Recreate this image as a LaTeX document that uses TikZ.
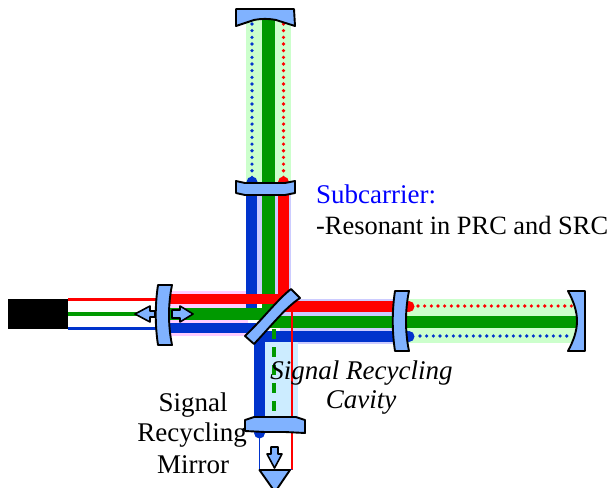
\documentclass[tikz,border=0pt]{standalone}
\usepackage{fontspec}
\setmainfont{Liberation Serif}
\definecolor{bm}{HTML}{0033CC}
\definecolor{rd}{HTML}{FF0000}
\definecolor{gn}{HTML}{009900}
\definecolor{lgn}{HTML}{CCFFCC}
\definecolor{lav}{HTML}{CCCCFF}
\definecolor{pnk}{HTML}{FFCCFF}
\definecolor{lbl}{HTML}{CCECFF}
\definecolor{opt}{HTML}{80B2FF}
\tikzset{
  optic/.style={fill=opt,draw=black,line width=1.9pt,line join=round},
  thick beam/.style={line width=11pt},
  dots beam/.style={line width=3.6pt,line cap=round,dash pattern=on 0pt off 6.67pt},
  thin beam/.style={line width=2.4pt},
  lab/.style={font=\fontsize{27}{30}\selectfont,inner sep=0pt,align=center},
}
\begin{document}
\begin{tikzpicture}[x=1pt,y=-1pt]
\useasboundingbox (0,0) rectangle (612,487);
% washes
\fill[lgn] (246,20) rectangle (291,182);
\fill[lav] (246,192) rectangle (291,300);
\fill[pnk] (170,291) rectangle (248,336);
\fill[lav] (280,299) rectangle (396,344);
\fill[lgn] (405,299) rectangle (575,343);
\fill[lbl] (265,340) rectangle (298,418);
% north arm
\draw[gn,line width=12.5pt] (268.5,18) -- (268.5,312);
\draw[bm,dots beam] (252,24) -- (252,180);
\draw[rd,dots beam] (283.5,24) -- (283.5,180);
\fill[bm] (252,182) circle (5.5);
\fill[rd] (283.5,182) circle (5.5);
\draw[bm,thick beam] (251.5,182) -- (251.5,308);
\draw[rd,thick beam] (283.5,182) -- (283.5,306);
% west
\draw[rd,thin beam] (68,299.5) -- (158,299.5);
\draw[gn,line width=3.6pt] (68,314) -- (158,314);
\draw[bm,thin beam] (68,328.5) -- (158,328.5);
\fill[black] (8,299) rectangle (68,329);
\draw[rd,line width=10.5pt] (170,299) -- (284,299);
\draw[gn,line width=12pt] (170,314) -- (272,314);
\draw[bm,line width=10.5pt] (170,328) -- (256,328);
% east
\draw[rd,thick beam] (282,306.5) -- (408,306.5);
\draw[gn,line width=12pt] (270,322) -- (577,322);
\draw[bm,thick beam] (258,336.5) -- (408,336.5);
\fill[rd] (409,306.5) circle (5.5);
\fill[bm] (409,336.5) circle (5.5);
\draw[rd,dots beam] (418,306) -- (572,306);
\draw[bm,dots beam] (420,336) -- (570,336);
% south
\draw[bm,thick beam] (259.5,331) -- (259.5,432);
\fill[bm] (259.5,433) circle (5.5);
\draw[gn,line width=3.4pt,dash pattern=on 10pt off 8pt] (274,329) -- (274,434);
\draw[rd,line width=1.4pt] (292,303) -- (292,469.5);
\draw[bm,line width=1.4pt] (259.5,433) -- (259.5,469.5) -- (292,469.5);
% optics
\draw[optic] (236,9) -- (294,9) -- (295,26) -- (276,20) .. controls (268,18.5) and (262,18.5) .. (254,20) -- (236,26) -- cycle;
\draw[optic] (236,181) -- (245,183) -- (285,183) -- (295,181) -- (295,193) -- (285,195) -- (245,195) -- (236,193) -- cycle;
\draw[optic] (158,285) -- (172,285) .. controls (168,305) and (168,325) .. (172,345) -- (158,345) .. controls (155,325) and (155,305) .. (158,285) -- cycle;
\draw[optic] (395,291) -- (409,291) .. controls (405,310) and (405,332) .. (409,351) -- (395,351) .. controls (392,332) and (392,310) .. (395,291) -- cycle;
\draw[optic] (568,291) -- (585,291) -- (585,351) -- (568,351) .. controls (574,340) and (577,330) .. (577,321) .. controls (577,312) and (574,302) .. (568,291) -- cycle;
\draw[optic] (291,289) -- (300,298) .. controls (285,308) and (272,325) .. (254,344) -- (245,336) .. controls (262,320) and (277,300) .. (291,289) -- cycle;
\draw[optic] (245,420) -- (254,417) -- (296,417) -- (305,420) -- (305,433) -- (285,432) -- (265,432) -- (245,431) -- cycle;
% arrows
\draw[optic,line width=1.6pt] (155,311) -- (150,311) -- (150,306) -- (135,314) -- (150,322) -- (150,317) -- (155,317) -- cycle;
\draw[optic,line width=1.6pt] (172,310) -- (180,310) -- (180,306) -- (193,314) -- (180,322) -- (180,318) -- (172,318) -- cycle;
\draw[optic,line width=1.6pt] (271,447) -- (278,447) -- (278,454) -- (282,454) -- (274.5,468) -- (267,454) -- (271,454) -- cycle;
\draw[optic] (259.5,470) -- (290,470) -- (275,492) -- cycle;
% text
\node[lab,text=blue,anchor=base west] (sub) at (316,203) {Subcarrier:};
\node[lab,anchor=base west,font=\fontsize{26.4}{30}\selectfont] (res) at (316,234) {-Resonant in PRC and SRC};
\node[lab,anchor=base,font=\fontsize{27}{30}\selectfont\itshape] (src1) at (361.5,379) {Signal Recycling};
\node[lab,anchor=base,font=\fontsize{27}{30}\selectfont\itshape] (src2) at (361,408) {Cavity};
\node[lab,anchor=base] (m1) at (193,411) {Signal};
\node[lab,anchor=base] (m2) at (192,441) {Recycling};
\node[lab,anchor=base] (m3) at (193,473) {Mirror};
\end{tikzpicture}
\end{document}
